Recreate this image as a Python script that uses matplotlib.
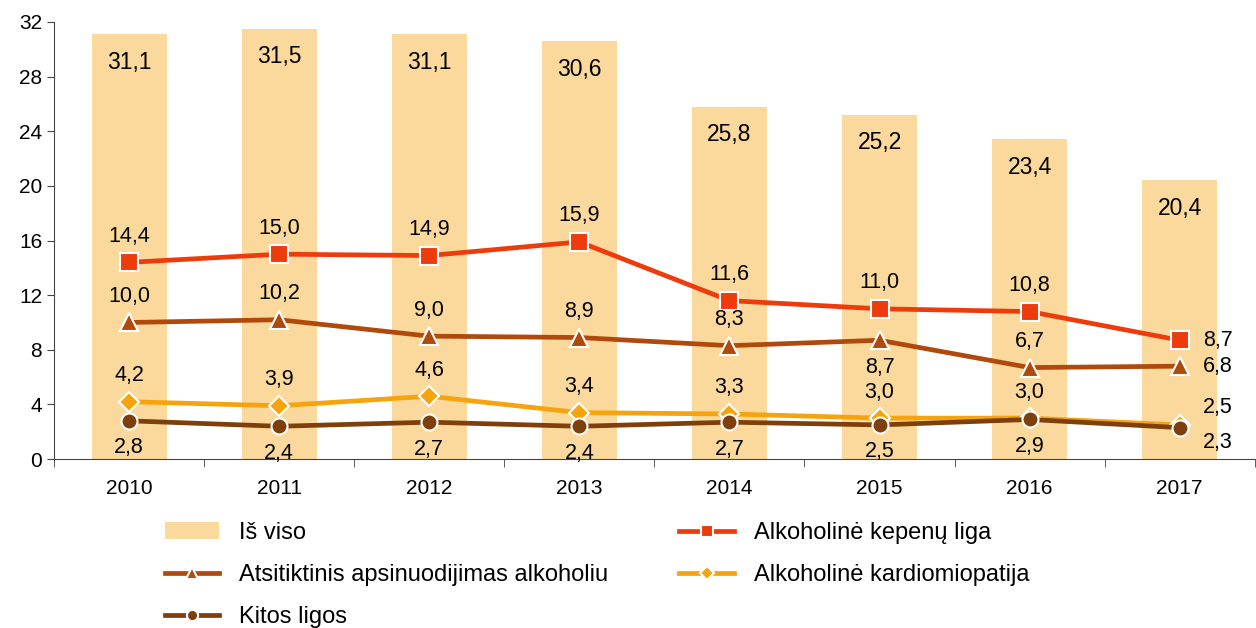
import numpy as np
import matplotlib.pyplot as plt

plt.rcParams['font.family'] = ['Liberation Sans', 'DejaVu Sans']

years = ['2010', '2011', '2012', '2013', '2014', '2015', '2016', '2017']
total = [31.1, 31.5, 31.1, 30.6, 25.8, 25.2, 23.4, 20.4]
kepenu = [14.4, 15.0, 14.9, 15.9, 11.6, 11.0, 10.8, 8.7]
atsitiktinis = [10.0, 10.2, 9.0, 8.9, 8.3, 8.7, 6.7, 6.8]
kardio = [4.2, 3.9, 4.6, 3.4, 3.3, 3.0, 3.0, 2.5]
kitos = [2.8, 2.4, 2.7, 2.4, 2.7, 2.5, 2.9, 2.3]

def fmt(v):
    return f"{v:.1f}".replace('.', ',')

fig = plt.figure(figsize=(12.56, 6.28), dpi=100)
ax = fig.add_axes([0.043, 0.269, 0.956, 0.696])

x = np.arange(len(years))

# Bars
bars = ax.bar(x, total, width=0.5, color='#FBD99D', label='Iš viso', zorder=1)
for xi, v in zip(x, total):
    ax.annotate(fmt(v), (xi, v), xytext=(0, -28), textcoords='offset pixels',
                ha='center', va='center', fontsize=16.5)

# Lines
series = [
    (kepenu, '#EE3B0C', 's', 12.5, 'Alkoholinė kepenų liga'),
    (atsitiktinis, '#B04A0C', '^', 13, 'Atsitiktinis apsinuodijimas alkoholiu'),
    (kardio, '#F6A40E', 'D', 10, 'Alkoholinė kardiomiopatija'),
    (kitos, '#7E3F0B', 'o', 11.5, 'Kitos ligos'),
]
handles = {}
for vals, col, mk, ms, name in series:
    h, = ax.plot(x, vals, color=col, lw=3.4, marker=mk, ms=ms,
                 mec='white', mew=1.5, label=name, zorder=3)
    handles[name] = h

def label(vals, pos):
    for i, v in enumerate(vals):
        p = pos[i]
        if p == 'a':
            off = (0, 26)
        elif p == 'b':
            off = (0, -27)
        else:
            off = p
        ax.annotate(fmt(v), (x[i], v), xytext=off, textcoords='offset pixels',
                    ha='center', va='center', fontsize=15.5, zorder=5)

label(kepenu, ['a'] * 7 + [(38, 0)])
label(atsitiktinis, ['a'] * 5 + ['b', 'a', (38, 0)])
label(kardio, ['a'] * 7 + [(38, 17)])
label(kitos, ['b'] * 7 + [(38, -15)])

ax.set_xlim(-0.5, len(years) - 0.5)
ax.set_ylim(0, 32)
ax.set_yticks(np.arange(0, 33, 4))
ax.set_xticks(x)
ax.set_xticklabels(years)
ax.set_xticks(np.arange(-0.5, len(years)), minor=True)
ax.tick_params(axis='x', which='major', length=0, labelsize=15, pad=14)
ax.tick_params(axis='x', which='minor', length=6, direction='out', color='#444444')
ax.tick_params(axis='y', labelsize=15, length=5, color='#444444')
for s in ['top', 'right']:
    ax.spines[s].set_visible(False)
for s in ['left', 'bottom']:
    ax.spines[s].set_color('#444444')

order = [bars, handles['Atsitiktinis apsinuodijimas alkoholiu'], handles['Kitos ligos'],
         handles['Alkoholinė kepenų liga'], handles['Alkoholinė kardiomiopatija']]
leg = fig.legend(order, [h.get_label() for h in order], ncol=2, frameon=False,
                 fontsize=17, loc='upper left', bbox_to_anchor=(0.1145, 0.203),
                 handlelength=2.3, handletextpad=0.85, columnspacing=3.0,
                 labelspacing=0.85, markerscale=0.7)

fig.savefig('out.png', dpi=100)
